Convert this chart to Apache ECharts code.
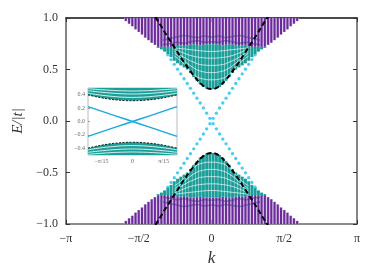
<!DOCTYPE html>
<html><head><meta charset="utf-8">
<script src="https://cdn.jsdelivr.net/npm/echarts@6/dist/echarts.min.js"></script>
<style>html,body{margin:0;padding:0;background:#fff}#c{width:374px;height:280px}</style>
</head><body><div id="c"></div>
<script>
// ---------- data (positive-k half; the spectrum is symmetric in k and E) ----------
const kSamples = [0.035,0.105,0.175,0.244,0.314,0.384,0.454,0.524,0.593,0.663,0.733,0.803,0.873,0.942,1.012,1.082,1.152,1.222,1.291,1.361,1.431,1.501,1.571,1.640,1.710,1.780,1.850];
const edgeE   = [0.026,0.076,0.126,0.175,0.222,0.270,0.317,0.364,0.410,0.457,0.503,0.550,0.596,0.642,0.688,0.734,0.780];
const tealLow = [0.31,0.315,0.33,0.355,0.39,0.425,0.465,0.50,0.52,0.54,0.56,0.585,0.62,0.65,0.675,0.695,0.71];
const tealHigh= [0.745,0.745,0.74,0.735,0.74,0.745,0.74,0.735,0.73,0.735,0.73,0.725,0.72,0.72,0.72,0.72,0.72];
const purpleLow=[0.745,0.745,0.74,0.735,0.74,0.745,0.74,0.735,0.73,0.735,0.73,0.725,0.72,0.72,0.72,0.72,0.72,0.74,0.76,0.785,0.81,0.84,0.865,0.89,0.92,0.945,0.97];
const purpleHigh = 1.0;

const dashK = [0,0.1,0.2,0.3,0.4,0.5,0.6,0.7,0.8,0.9,1.0,1.1,1.2,1.3];
const dashE = [0.31,0.32,0.35,0.395,0.45,0.51,0.575,0.645,0.715,0.785,0.855,0.93,1.0,1.075];

const whiteK = [0,0.2,0.4,0.6,0.8];
const white1 = [0.40,0.41,0.46,0.56,0.63];
const white2 = [0.47,0.48,0.52,0.59,0.66];
const white3 = [0.54,0.545,0.575,0.62,0.68];
const white4 = [0.61,0.615,0.63,0.66,0.70];
const white5 = [0.675,0.68,0.69,0.70,0.71];

const waveK = [0,0.15,0.3,0.45,0.6,0.75,0.9,1.05];
const wave1 = [0.77,0.765,0.78,0.77,0.755,0.765,0.75,0.74];
const wave2 = [0.815,0.825,0.81,0.82,0.83,0.815,0.80,0.785];

const insetK      = [0,0.05,0.1,0.15,0.2,0.25,0.3];
const insetDash   = [0.31,0.312,0.32,0.333,0.35,0.372,0.397];
const insetWhite1 = [0.36,0.362,0.368,0.378,0.39,0.405,0.423];
const insetWhite2 = [0.41,0.412,0.417,0.425,0.435,0.447,0.46];
const insetWhite3 = [0.455,0.457,0.46,0.466,0.473,0.481,0.49];
const insetEdge   = [0,0.037,0.074,0.11,0.147,0.184,0.221];

const xTickValues = [-Math.PI,-Math.PI/2,0,Math.PI/2,Math.PI];
const xTickLabels = ['\u2212\u03c0','\u2212\u03c0/2','0','\u03c0/2','\u03c0'];
const yTickLabels = ['\u22121.0','\u22120.5','0.0','0.5','1.0'];
const insetXTickValues = [-Math.PI/15,0,Math.PI/15];
const insetXTickLabels = ['\u2212\u03c0/15','0','\u03c0/15'];
const insetYTickValues = [-0.4,-0.2,0,0.2,0.4];
const insetYTickLabels = ['\u22120.4','\u22120.2','0.0','0.2','0.4'];

// ---------- helpers ----------
const TEAL='#1b9e98', PURPLE='#6a2a9a', LAVENDER='#d3bfe3', BLUE='#19bff2';
const colStep = kSamples[1]-kSamples[0];
function mirror(ks, es, s){
  const out=[];
  for(let i=ks.length-1;i>=0;i--) out.push([-ks[i], s*es[i]]);
  for(let i=0;i<ks.length;i++){ if(ks[i]!==0) out.push([ks[i], s*es[i]]); }
  return out;
}
function oddLine(ks, es){
  const out=[];
  for(let i=ks.length-1;i>=0;i--) out.push([-ks[i], -es[i]]);
  for(let i=1;i<ks.length;i++) out.push([ks[i], es[i]]);
  return out;
}
function columns(lo, hi, n){
  const out=[];
  for(let i=0;i<n;i++){
    const h = Array.isArray(hi)?hi[i]:hi;
    out.push([kSamples[i], lo[i], h],[-kSamples[i], lo[i], h],
             [kSamples[i], -h, -lo[i]],[-kSamples[i], -h, -lo[i]]);
  }
  return out;
}
function colRenderer(frac, color){
  return function(params, api){
    const k=api.value(0), lo=api.value(1), hi=api.value(2);
    const a=api.coord([k,hi]), b=api.coord([k,lo]);
    const w=api.size([colStep,0])[0]*frac;
    const cs=params.coordSys;
    const shape=echarts.graphic.clipRectByRect({x:a[0]-w/2,y:a[1],width:w,height:b[1]-a[1]},
      {x:cs.x,y:cs.y,width:cs.width,height:cs.height});
    if(!shape) return;
    return {type:'rect',shape:shape,style:{fill:color}};
  };
}
const edgePts=[];
for(let i=0;i<edgeE.length;i++){
  edgePts.push([kSamples[i],edgeE[i]],[kSamples[i],-edgeE[i]],[-kSamples[i],edgeE[i]],[-kSamples[i],-edgeE[i]]);
}

const serif='Liberation Serif';
const series=[];
series.push({type:'scatter',xAxisIndex:0,yAxisIndex:0,data:edgePts,symbol:'circle',symbolSize:3.3,
  itemStyle:{color:BLUE},z:1,silent:true});
series.push({type:'custom',xAxisIndex:0,yAxisIndex:0,renderItem:colRenderer(1.0,LAVENDER),
  data:columns(purpleLow,purpleHigh,purpleLow.length),encode:{x:0,y:[1,2]},z:2,silent:true});
series.push({type:'custom',xAxisIndex:0,yAxisIndex:0,renderItem:colRenderer(0.62,PURPLE),
  data:columns(purpleLow,purpleHigh,purpleLow.length),encode:{x:0,y:[1,2]},z:3,silent:true});
series.push({type:'custom',xAxisIndex:0,yAxisIndex:0,renderItem:colRenderer(0.9,TEAL),
  data:columns(tealLow,tealHigh,tealLow.length),encode:{x:0,y:[1,2]},z:3,silent:true});
[white1,white2,white3,white4,white5].forEach(w=>{
  [1,-1].forEach(s=>series.push({type:'line',xAxisIndex:0,yAxisIndex:0,data:mirror(whiteK,w,s),smooth:true,
    symbol:'none',lineStyle:{color:'rgba(255,255,255,0.75)',width:0.9},z:4,silent:true}));
});
[wave1,wave2].forEach(w=>{
  [1,-1].forEach(s=>series.push({type:'line',xAxisIndex:0,yAxisIndex:0,data:mirror(waveK,w,s),smooth:true,
    symbol:'none',lineStyle:{color:'rgba(70,50,140,0.5)',width:1.6},z:4,silent:true}));
});
[1,-1].forEach(s=>series.push({type:'line',xAxisIndex:0,yAxisIndex:0,data:mirror(dashK,dashE,s),smooth:true,
  symbol:'none',lineStyle:{color:'#000',width:2,type:[5,3]},z:6,silent:true}));

// inset
[1,-1].forEach(s=>series.push({type:'line',xAxisIndex:2,yAxisIndex:2,data:mirror(insetK,insetDash,s),smooth:true,
  symbol:'none',lineStyle:{width:0},areaStyle:{color:TEAL,opacity:1,origin:s>0?'end':'start'},z:2,silent:true}));
[insetWhite1,insetWhite2,insetWhite3].forEach(w=>{
  [1,-1].forEach(s=>series.push({type:'line',xAxisIndex:2,yAxisIndex:2,data:mirror(insetK,w,s),smooth:true,
    symbol:'none',lineStyle:{color:'rgba(255,255,255,0.85)',width:1},z:3,silent:true}));
});
[1,-1].forEach(s=>series.push({type:'line',xAxisIndex:2,yAxisIndex:2,data:mirror(insetK,insetDash,s),smooth:true,
  symbol:'none',lineStyle:{color:'#111',width:1,type:[2,1.5]},z:4,silent:true}));
series.push({type:'line',xAxisIndex:2,yAxisIndex:2,data:oddLine(insetK,insetEdge),symbol:'none',
  lineStyle:{color:'#1aa7e0',width:1.4},z:4,silent:true});
series.push({type:'line',xAxisIndex:2,yAxisIndex:2,data:oddLine(insetK,insetEdge.map(v=>-v)),symbol:'none',
  lineStyle:{color:'#1aa7e0',width:1.4},z:4,silent:true});

const lab={fontFamily:serif,fontSize:12,color:'#333'};
const option={
  animation:false,
  grid:[
    {left:66,right:17,top:18,bottom:56,show:false},
    {left:88,top:88,width:89,height:67,show:true,backgroundColor:'#fff',borderColor:'#aaa',borderWidth:0.8}
  ],
  xAxis:[
    {gridIndex:0,type:'value',min:-Math.PI,max:Math.PI,interval:Math.PI/2,position:'bottom',
     axisLine:{show:true,onZero:false,lineStyle:{color:'#666',width:1.6}},
     axisTick:{inside:true,length:4,lineStyle:{color:'#333'}},splitLine:{show:false},
     axisLabel:Object.assign({margin:9,formatter:v=>{const i=xTickValues.findIndex(t=>Math.abs(t-v)<1e-6);return i>=0?xTickLabels[i]:'';}},lab),
     name:'k',nameLocation:'middle',nameGap:22,nameTextStyle:{fontFamily:serif,fontStyle:'italic',fontSize:17,color:'#333'}},
    {gridIndex:0,type:'value',min:-Math.PI,max:Math.PI,interval:Math.PI/2,position:'top',
     axisLine:{show:true,onZero:false,lineStyle:{color:'#111',width:1.6}},
     axisTick:{inside:true,length:4,lineStyle:{color:'#333'}},axisLabel:{show:false},splitLine:{show:false}},
    {gridIndex:1,type:'value',min:-0.3,max:0.3,position:'bottom',axisLine:{show:false,onZero:false},splitLine:{show:false},
     axisTick:{inside:true,length:2,customValues:insetXTickValues,lineStyle:{color:'#999'}},
     axisLabel:{customValues:insetXTickValues,fontFamily:serif,fontSize:6,color:'#666',margin:3,
       formatter:v=>{const i=insetXTickValues.findIndex(t=>Math.abs(t-v)<1e-6);return i>=0?insetXTickLabels[i]:'';}}}
  ],
  yAxis:[
    {gridIndex:0,type:'value',min:-1,max:1,interval:0.5,position:'left',
     axisLine:{show:true,onZero:false,lineStyle:{color:'#666',width:1.6}},
     axisTick:{inside:true,length:4,lineStyle:{color:'#333'}},splitLine:{show:false},
     axisLabel:Object.assign({margin:8,formatter:v=>yTickLabels[Math.round((v+1)/0.5)]},lab),
     name:'E/|t|',nameLocation:'middle',nameGap:34,nameRotate:90,
     nameTextStyle:{fontFamily:serif,fontStyle:'italic',fontSize:15,color:'#333'}},
    {gridIndex:0,type:'value',min:-1,max:1,interval:0.5,position:'right',
     axisLine:{show:true,onZero:false,lineStyle:{color:'#666',width:1.6}},
     axisTick:{inside:true,length:4,lineStyle:{color:'#333'}},axisLabel:{show:false},splitLine:{show:false}},
    {gridIndex:1,type:'value',min:-0.5,max:0.5,position:'left',axisLine:{show:false,onZero:false},splitLine:{show:false},
     axisTick:{inside:true,length:2,customValues:insetYTickValues,lineStyle:{color:'#999'}},
     axisLabel:{customValues:insetYTickValues,fontFamily:serif,fontSize:6,color:'#666',margin:3,
       formatter:v=>{const i=insetYTickValues.findIndex(t=>Math.abs(t-v)<1e-6);return i>=0?insetYTickLabels[i]:'';}}}
  ],
  series:series
};
const chart=echarts.init(document.getElementById('c'),null,{renderer:'canvas'});
chart.setOption(option);
</script></body></html>
